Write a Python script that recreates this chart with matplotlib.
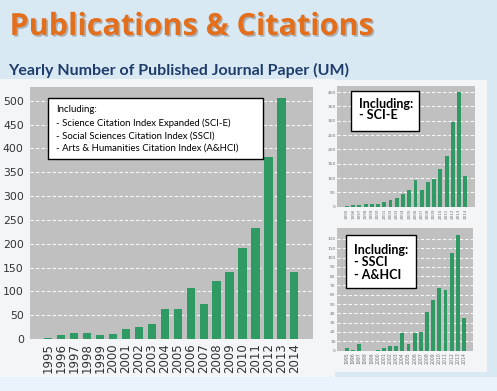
import matplotlib
matplotlib.use("Agg")
import matplotlib.pyplot as plt
from matplotlib.patches import Rectangle
from matplotlib import font_manager
import matplotlib.patheffects as pe
import numpy as np

# ---------------- data ----------------
years = [str(y) for y in range(1995, 2015)]
total_papers = [3, 8, 13, 13, 8, 10, 21, 26, 31, 64, 64, 107, 74, 122, 140, 191, 233, 383, 506, 140]
scie_papers = [2, 6, 6, 10, 8, 8, 17, 22, 29, 43, 57, 94, 57, 86, 96, 133, 177, 296, 400, 107]
ssci_ahci_papers = [2.5, 1, 7.5, 0, 0, 1, 2.5, 4.5, 4.5, 19, 6.5, 19, 20, 41, 54, 67, 65, 105, 124, 35]

main_ticks = [0, 50, 100, 150, 200, 250, 300, 350, 400, 450, 500]
sci_ticks = [0, 50, 100, 150, 200, 250, 300, 350, 400]
ssci_ticks = [0, 10, 20, 30, 40, 50, 60, 70, 80, 90, 100, 110, 120]

title = "Publications & Citations"
subtitle = "Yearly Number of Published Journal Paper (UM)"
main_legend = ["Including:",
               "- Science Citation Index Expanded (SCI-E)",
               "- Social Sciences Citation Index (SSCI)",
               "- Arts & Humanities Citation Index (A&HCI)"]
sci_legend = ["Including:", "- SCI-E"]
ssci_legend = ["Including:", "- SSCI", "- A&HCI"]

# ---------------- fonts ----------------
installed = {f.name for f in font_manager.fontManager.ttflist}
if "Liberation Sans Narrow" in installed:
    NARROW, NARROW_FS = "Liberation Sans Narrow", 10
else:
    NARROW, NARROW_FS = "DejaVu Sans", 7.8

# ---------------- layout helpers ----------------
W, H = 497, 391
fig = plt.figure(figsize=(W / 100, H / 100), dpi=100)
fig.patch.set_facecolor("#d9e9f4")


def rect(l, t, r, b):
    return [l / W, 1 - b / H, (r - l) / W, (b - t) / H]


def add_bg(l, t, r, b, color):
    fig.patches.append(Rectangle((l / W, 1 - b / H), (r - l) / W, (b - t) / H,
                                 transform=fig.transFigure, facecolor=color,
                                 edgecolor="none", zorder=-10))


add_bg(0, 377, W, H, "#eaf2fb")
add_bg(0, 79, 335, 377, "#f3f5f7")
add_bg(333, 80, 487, 372, "#f3f5f7")

BAR = "#2f9a64"
GRAY = "#c0c0c0"
x = np.arange(len(years))


def bar_chart(box, values, ylim, ticks, xlim, width, tick_fs, xtick_fs, tick_color, ypad, xpad,
              yfamily="DejaVu Sans"):
    ax = fig.add_axes(rect(*box))
    ax.set_zorder(1)
    ax.set_facecolor(GRAY)
    ax.bar(x, values, width=width, color=BAR, zorder=3)
    ax.set_xlim(*xlim)
    ax.set_ylim(*ylim)
    ax.set_yticks(ticks)
    ax.set_yticklabels([str(t) for t in ticks], family=yfamily, fontsize=tick_fs, color=tick_color)
    ax.set_xticks(x)
    ax.set_xticklabels(years, rotation=90, fontsize=xtick_fs, color=tick_color)
    ax.tick_params(axis="y", length=0, pad=ypad)
    ax.tick_params(axis="x", length=0, pad=xpad)
    for t in ticks[1:]:
        ax.axhline(t, color="white", lw=0.8, ls=(0, (3, 2)), zorder=1, alpha=0.9)
    for s in ax.spines.values():
        s.set_visible(False)
    return ax


# main chart
ax_main = bar_chart((30, 87, 313, 339), total_papers, (0, 529), main_ticks,
                    (-1.41, 20.44), 0.64, NARROW_FS, 8.5, "#333333", 4.5, 3, yfamily=NARROW)
# SCI-E chart
ax_sci = bar_chart((337, 86, 474.5, 206.7), scie_papers, (0, 421), sci_ticks,
                   (-1.6, 20.48), 0.62, 3.2, 3.0, "#707070", 1, 1.5)
# SSCI / A&HCI chart
ax_ssci = bar_chart((337, 228.3, 473, 350.5), ssci_ahci_papers, (0, 131.5), ssci_ticks,
                    (-1.6, 20.45), 0.62, 3.2, 3.3, "#707070", 1, 1.5)

# ---------------- legend boxes ----------------
def legend_box(l, t, r, b, lines, ys, fs, x0, weight="normal"):
    fig.patches.append(Rectangle((l / W, 1 - b / H), (r - l) / W, (b - t) / H,
                                 transform=fig.transFigure, facecolor="white",
                                 edgecolor="black", lw=1.0, zorder=10))
    for line, y in zip(lines, ys):
        fig.text(x0 / W, 1 - y / H, line, fontsize=fs, va="center", ha="left",
                 family=["Lato", "DejaVu Sans"], weight=weight, color="black", zorder=11)


legend_box(48, 98, 263, 159, main_legend, [110, 123, 136, 148.5], 6.9, 56)
legend_box(351, 91, 419, 131, sci_legend, [104, 115], 9.0, 359, weight="bold")
legend_box(346, 235, 416, 288, ssci_legend, [250, 262, 275], 9.0, 354, weight="bold")

# ---------------- titles ----------------
fig.text(9.5 / W, 1 - 35 / H, title, fontsize=22, weight="bold", color="#e36f1c",
         family=["Open Sans", "DejaVu Sans"], va="baseline", ha="left",
         path_effects=[pe.withSimplePatchShadow(offset=(1.2, -1.2), shadow_rgbFace="#7f7f7f", alpha=0.5)])
fig.text(8.5 / W, 1 - 75 / H, subtitle, fontsize=11.5, weight="bold", color="#1f3d6b",
         family=["Lato", "DejaVu Sans"], va="baseline", ha="left")

fig.savefig("out.png", dpi=100, facecolor=fig.get_facecolor())
